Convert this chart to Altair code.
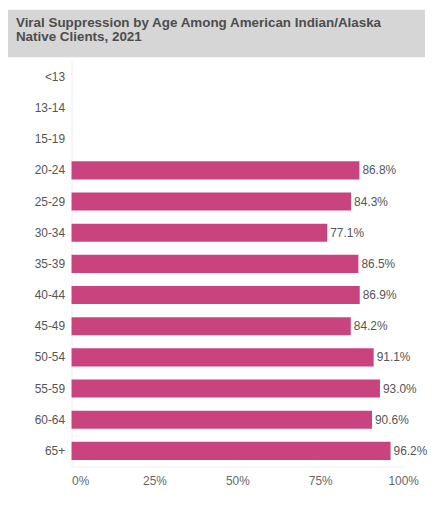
import altair as alt
import pandas as pd

ages = ["<13", "13-14", "15-19", "20-24", "25-29", "30-34", "35-39",
        "40-44", "45-49", "50-54", "55-59", "60-64", "65+"]
values = [None, None, None, 86.8, 84.3, 77.1, 86.5, 86.9, 84.2, 91.1, 93.0, 90.6, 96.2]
x_ticks = [0, 25, 50, 75, 100]
title_lines = ["Viral Suppression by Age Among American Indian/Alaska",
               "Native Clients, 2021"]

df = pd.DataFrame({"age": ages, "value": values})

FONT = "Liberation Sans"

y_enc = alt.Y("age:N", sort=ages, title=None,
              scale=alt.Scale(domain=ages, paddingInner=0.42, paddingOuter=0.21),
              axis=alt.Axis(ticks=False, labelPadding=7, labelFontSize=12,
                            labelColor="#555555", labelFont=FONT,
                            domainColor="#eeeeee", grid=False))
x_enc = alt.X("value:Q", title=None,
              scale=alt.Scale(domain=[0, 100], nice=False),
              axis=alt.Axis(values=x_ticks, labelExpr="datum.value + '%'",
                            ticks=False, grid=False, labelPadding=9,
                            labelFontSize=12, labelColor="#666666", labelFont=FONT,
                            domainColor="#eeeeee",
                            labelAlign=alt.ExprRef(expr="datum.value == 0 ? 'left' : 'center'")))

base = alt.Chart(df)

bars = base.mark_bar(color="#c9447f").encode(x=x_enc, y=y_enc)

labels = base.transform_filter("isValid(datum.value)").transform_calculate(
    label="format(datum.value, '.1f') + '%'"
).mark_text(align="left", baseline="middle", dx=3, fontSize=12,
            color="#555555", font=FONT).encode(
    x=alt.X("value:Q"), y=alt.Y("age:N", sort=ages), text="label:N")

band = alt.Chart(alt.Data(values=[{}])).mark_rect(color="#d6d6d6").encode(
    x=alt.value(-64), x2=alt.value(356), y=alt.value(-52), y2=alt.value(-4))

title = alt.Chart(alt.Data(values=[{}])).mark_text(
    text=title_lines, align="left", baseline="alphabetic", lineHeight=15,
    fontSize=13.5, fontWeight="bold", color="#4d4d4d", font=FONT
).encode(x=alt.value(-56), y=alt.value(-35))

chart = alt.layer(band, title, bars, labels).properties(
    width=334, height=408, padding=0
).configure_view(stroke=None)

chart.save("out.html", embed_options={"renderer": "svg", "actions": False})
